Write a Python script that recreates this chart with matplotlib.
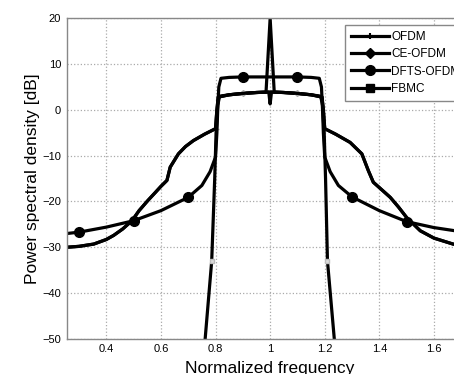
import numpy as np
import matplotlib
matplotlib.use("Agg")
import matplotlib.pyplot as plt
from matplotlib.lines import Line2D

plt.rcParams['font.family'] = ['Liberation Sans', 'DejaVu Sans']

# ---------------------------------------------------------------------------
# Data
# ---------------------------------------------------------------------------

# DFTS-OFDM: high plateau, circle markers every 0.2
f_dfts = [0.255, 0.3, 0.4, 0.5, 0.6, 0.7, 0.75, 0.78, 0.8, 0.805, 0.808, 0.812,
          0.82, 0.85, 0.9, 1.0, 1.1, 1.15, 1.18, 1.188, 1.192, 1.195, 1.2,
          1.22, 1.25, 1.3, 1.4, 1.5, 1.6, 1.7, 1.745]
psd_dfts = [-27.0, -26.7, -25.6, -24.2, -22.0, -19.1, -16.5, -13.5, -10.3, -5.0, 0.0, 5.0,
            6.9, 7.1, 7.2, 7.2, 7.2, 7.1, 6.9, 5.0, 0.0, -5.0, -10.3,
            -13.5, -16.5, -19.0, -22.0, -24.4, -25.7, -26.6, -27.0]
mk_dfts = [0.3, 0.5, 0.7, 0.9, 1.1, 1.3, 1.5, 1.7]

# OFDM: slow sidelobe decay
f_ofdm = [0.255, 0.3, 0.354, 0.4, 0.427, 0.46, 0.494, 0.52, 0.552, 0.58, 0.6, 0.622,
          0.634, 0.664, 0.69, 0.719, 0.76, 0.8, 0.805, 0.81, 0.85, 0.9, 0.95, 1.0,
          1.05, 1.1, 1.15, 1.19, 1.195, 1.2, 1.24, 1.293, 1.336, 1.36, 1.378,
          1.41, 1.44, 1.47, 1.5, 1.55, 1.6, 1.67, 1.745]
psd_ofdm = [-30.0, -29.8, -29.3, -28.3, -27.4, -26.0, -24.2, -22.0, -19.8, -18.0, -16.7, -15.4,
            -12.5, -9.6, -8.0, -6.7, -5.3, -4.1, 0.0, 2.8, 3.3, 3.6, 3.8, 3.9,
            3.8, 3.6, 3.3, 2.8, 0.0, -4.1, -5.3, -7.1, -9.6, -13.3, -15.8,
            -17.5, -19.1, -21.2, -23.5, -26.4, -28.0, -29.3, -30.0]
mk_ofdm = [0.8, 1.2]

# CE-OFDM: same skirt with the carrier spike at f = 1
f_ce = [0.255, 0.3, 0.354, 0.4, 0.427, 0.46, 0.494, 0.52, 0.552, 0.58, 0.6, 0.622,
        0.634, 0.664, 0.69, 0.719, 0.76, 0.8, 0.805, 0.81, 0.85, 0.9, 0.95, 0.985,
        1.0, 1.015, 1.05, 1.1, 1.15, 1.19, 1.195, 1.2, 1.24, 1.293, 1.336, 1.36,
        1.378, 1.41, 1.44, 1.47, 1.5, 1.55, 1.6, 1.67, 1.745]
psd_ce = [-30.0, -29.8, -29.3, -28.3, -27.4, -26.0, -24.2, -22.0, -19.8, -18.0, -16.7, -15.4,
          -12.5, -9.6, -8.0, -6.7, -5.3, -4.1, 0.0, 2.8, 3.3, 3.6, 3.8, 3.9,
          20.0, 3.9, 3.8, 3.6, 3.3, 2.8, 0.0, -4.1, -5.3, -7.1, -9.6, -13.3,
          -15.8, -17.5, -19.1, -21.2, -23.5, -26.4, -28.0, -29.3, -30.0]
mk_ce = [0.9, 1.1]

# FBMC: steep band edges
f_fbmc = [0.755, 0.762, 0.786, 0.797, 0.802, 0.808, 0.815, 0.85, 0.9, 0.95, 0.995,
          1.0, 1.005, 1.05, 1.1, 1.15, 1.185, 1.192, 1.198, 1.203, 1.21, 1.235, 1.242]
psd_fbmc = [-55.0, -50.0, -33.0, -15.0, -5.0, 1.0, 3.0, 3.3, 3.6, 3.8, 3.9,
            1.3, 3.9, 3.8, 3.6, 3.3, 3.0, 1.0, -5.0, -15.0, -33.0, -50.0, -55.0]
mk_fbmc = [0.786, 1.21]

# ---------------------------------------------------------------------------
# Plot
# ---------------------------------------------------------------------------

fig = plt.figure(figsize=(4.54, 3.74), dpi=100)
ax = fig.add_axes([0.147, 0.094, 0.896, 0.857])

LW = 2.3


def idx(f, marks):
    f = np.round(np.asarray(f), 3)
    return [int(i) for i in np.where(np.isin(f, np.round(marks, 3)))[0]]


ax.plot(f_ofdm, psd_ofdm, color="black", lw=LW, marker="+", ms=4, mew=1,
        mec="#aaaaaa", markevery=idx(f_ofdm, mk_ofdm))
ax.plot(f_ce, psd_ce, color="black", lw=LW, marker="D", ms=3, mec="#aaaaaa",
        mfc="#cccccc", markevery=idx(f_ce, mk_ce))
ax.plot(f_dfts, psd_dfts, color="black", lw=LW, marker="o", ms=7,
        markevery=idx(f_dfts, mk_dfts))
ax.plot(f_fbmc, psd_fbmc, color="black", lw=LW, marker="s", ms=3, mec="#bbbbbb",
        mfc="#dddddd", markevery=idx(f_fbmc, mk_fbmc))

ax.set_xlim(0.255, 1.745)
ax.set_ylim(-50, 20)
ax.set_xticks([0.4, 0.6, 0.8, 1.0, 1.2, 1.4, 1.6])
ax.set_xticklabels(["0.4", "0.6", "0.8", "1", "1.2", "1.4", "1.6"])
ax.set_yticks([-50, -40, -30, -20, -10, 0, 10, 20])
ax.tick_params(labelsize=8, length=0, pad=4)
ax.grid(True, linestyle=":", color="#aaaaaa", linewidth=0.9)
for s in ax.spines.values():
    s.set_color("#888888")
    s.set_linewidth(1.0)

ax.set_xlabel("Normalized frequency", fontsize=12.5, labelpad=5)
ax.set_ylabel("Power spectral density [dB]", fontsize=12.5, labelpad=2)

handles = [
    Line2D([], [], color="black", lw=LW, marker="+", ms=5, mew=1.5),
    Line2D([], [], color="black", lw=LW, marker="D", ms=5),
    Line2D([], [], color="black", lw=LW, marker="o", ms=7),
    Line2D([], [], color="black", lw=LW, marker="s", ms=6),
]
labels = ["OFDM", "CE-OFDM", "DFTS-OFDM", "FBMC"]
leg = fig.legend(handles, labels, loc="upper left",
                 bbox_to_anchor=(0.760, 0.933), fontsize=8.5,
                 handlelength=3.2, handletextpad=0.2, labelspacing=0.45,
                 fancybox=False, framealpha=1, borderaxespad=0,
                 borderpad=0.5)
leg.get_frame().set_edgecolor("#888888")
leg.get_frame().set_linewidth(1.0)

fig.savefig("out.png", dpi=100)
